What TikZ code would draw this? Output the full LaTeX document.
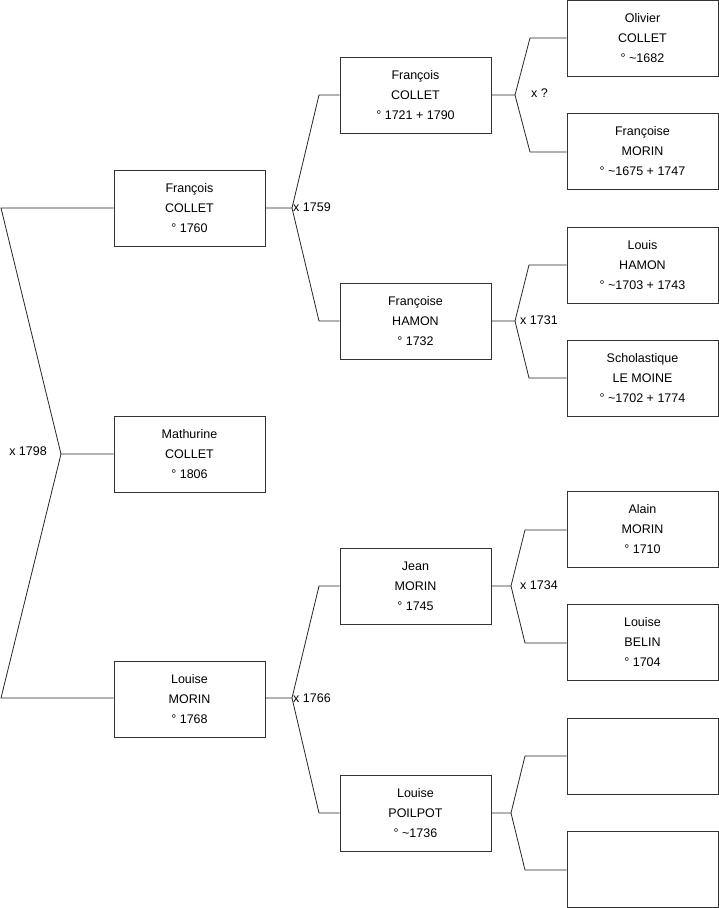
\documentclass[tikz,border=0pt]{standalone}
\usepackage{fontspec}
\setmainfont{Liberation Sans}
\begin{document}
\begin{tikzpicture}[x=1pt,y=-1pt,
  person/.style={draw=black!80,line width=0.8pt,minimum width=151pt,minimum height=76pt,inner sep=0pt,align=center,font=\fontsize{12.5}{20}\selectfont},
  link/.style={draw=black!85,line width=0.8pt},
  mar/.style={font=\fontsize{12.5}{15}\selectfont,inner sep=0pt}]
\useasboundingbox (0,0) rectangle (719,908);
% generation 1
\node[person] (g1a) at (189.5,208) {François\\COLLET\\° 1760};
\node[person] (g1b) at (189.5,454) {Mathurine\\COLLET\\° 1806};
\node[person] (g1c) at (189.5,699) {Louise\\MORIN\\° 1768};
% generation 2
\node[person] (g2a) at (415.5,95) {François\\COLLET\\° 1721 + 1790};
\node[person] (g2b) at (415.5,321) {Françoise\\HAMON\\° 1732};
\node[person] (g2c) at (415.5,586) {Jean\\MORIN\\° 1745};
\node[person] (g2d) at (415.5,813) {Louise\\POILPOT\\° \textasciitilde 1736};
% generation 3
\node[person] (g3a) at (642.5,38) {Olivier\\COLLET\\° \textasciitilde 1682};
\node[person] (g3b) at (642.5,151) {Françoise\\MORIN\\° \textasciitilde 1675 + 1747};
\node[person] (g3c) at (642.5,265) {Louis\\HAMON\\° \textasciitilde 1703 + 1743};
\node[person] (g3d) at (642.5,378) {Scholastique\\LE MOINE\\° \textasciitilde 1702 + 1774};
\node[person] (g3e) at (642.5,529) {Alain\\MORIN\\° 1710};
\node[person] (g3f) at (642.5,642) {Louise\\BELIN\\° 1704};
\node[person] (g3g) at (642.5,756) {};
\node[person] (g3h) at (642.5,869) {};
% coordinates
\coordinate (v0) at (61,454);
\coordinate (v0a) at (1,208);
\coordinate (v0c) at (1,698);
\coordinate (v1) at (292,208);
\coordinate (v1a) at (319,95);
\coordinate (v1b) at (319,321);
\coordinate (v2) at (292,698);
\coordinate (v2a) at (319,586);
\coordinate (v2b) at (319,813);
\coordinate (v3) at (515,95);
\coordinate (v3a) at (530,38);
\coordinate (v3b) at (530,152);
\coordinate (v4) at (515,321);
\coordinate (v4a) at (529,265);
\coordinate (v4b) at (529,378);
\coordinate (v5) at (511,586);
\coordinate (v5a) at (525,530);
\coordinate (v5b) at (525,643);
\coordinate (v6) at (511,813);
\coordinate (v6a) at (525,756);
\coordinate (v6b) at (525,870);
% connectors
\draw[link] (g1b.west) -- (v0) -- (v0a) -- (v0a -| g1a.west);
\draw[link] (v0) -- (v0c) -- (v0c -| g1c.west);
\draw[link] (g1a.east) -- (v1) -- (v1a) -- (g2a.west);
\draw[link] (v1) -- (v1b) -- (g2b.west);
\draw[link] (g1c.east |- v2) -- (v2) -- (v2a) -- (g2c.west);
\draw[link] (v2) -- (v2b) -- (g2d.west);
\draw[link] (g2a.east) -- (v3) -- (v3a) -- (v3a -| g3a.west);
\draw[link] (v3) -- (v3b) -- (v3b -| g3b.west);
\draw[link] (g2b.east) -- (v4) -- (v4a) -- (g3c.west);
\draw[link] (v4) -- (v4b) -- (g3d.west);
\draw[link] (g2c.east) -- (v5) -- (v5a) -- (v5a -| g3e.west);
\draw[link] (v5) -- (v5b) -- (v5b -| g3f.west);
\draw[link] (g2d.east) -- (v6) -- (v6a) -- (g3g.west);
\draw[link] (v6) -- (v6b) -- (v6b -| g3h.west);
% marriage labels
\node[mar,anchor=east] (m0) at (47,451) {x 1798};
\node[mar,anchor=west] (m1) at (293,207) {x 1759};
\node[mar,anchor=west] (m2) at (293,698) {x 1766};
\node[mar,anchor=west] (m3) at (531,93) {x ?};
\node[mar,anchor=west] (m4) at (520,320) {x 1731};
\node[mar,anchor=west] (m5) at (520,585) {x 1734};
\end{tikzpicture}
\end{document}
